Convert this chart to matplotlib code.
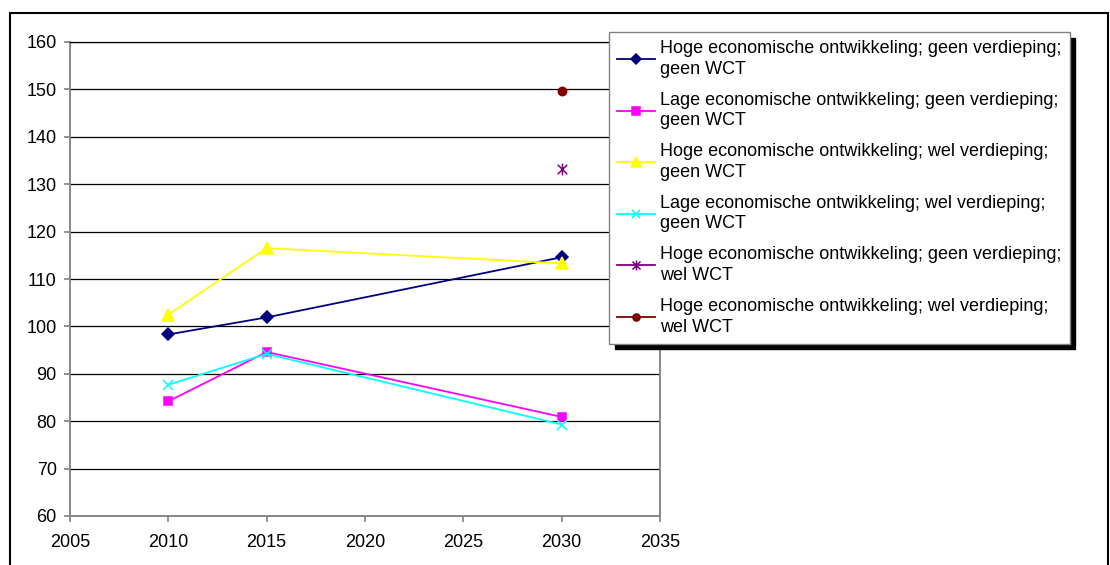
import matplotlib
matplotlib.use("Agg")
import matplotlib.pyplot as plt
from matplotlib.patches import Rectangle
from matplotlib.path import Path

plt.rcParams['font.family'] = ['Liberation Sans', 'DejaVu Sans']

years = [2010, 2015, 2030]

hoog_geen_geen = [98.3, 101.9, 114.6]
laag_geen_geen = [84.2, 94.6, 80.9]
hoog_wel_geen = [102.5, 116.5, 113.3]
laag_wel_geen = [87.7, 94.2, 79.3]
hoog_geen_wel = [None, None, 133.2]
hoog_wel_wel = [None, None, 149.6]

labels = [
    "Hoge economische ontwikkeling; geen verdieping;\ngeen WCT",
    "Lage economische ontwikkeling; geen verdieping;\ngeen WCT",
    "Hoge economische ontwikkeling; wel verdieping;\ngeen WCT",
    "Lage economische ontwikkeling; wel verdieping;\ngeen WCT",
    "Hoge economische ontwikkeling; geen verdieping;\nwel WCT",
    "Hoge economische ontwikkeling; wel verdieping;\nwel WCT",
]

x_ticks = [2005, 2010, 2015, 2020, 2025, 2030, 2035]
y_ticks = [60, 70, 80, 90, 100, 110, 120, 130, 140, 150, 160]

# star marker: an X with a vertical bar through it
star = Path([(-1, -1), (1, 1), (-1, 1), (1, -1), (0, -1.25), (0, 1.25)],
            [Path.MOVETO, Path.LINETO, Path.MOVETO, Path.LINETO,
             Path.MOVETO, Path.LINETO])

series = [hoog_geen_geen, laag_geen_geen, hoog_wel_geen, laag_wel_geen,
          hoog_geen_wel, hoog_wel_wel]
colors = ['#000080', '#FF00FF', '#FFFF00', '#00FFFF', '#800080', '#800000']
markers = ['D', 's', '^', 'x', star, 'o']
msizes = [6, 6, 8, 6.5, 8.5, 6]

fig = plt.figure(figsize=(11.10, 5.65), dpi=100)
ax = fig.add_axes([70 / 1110, 1 - 516 / 565, 590 / 1110, 474 / 565])

for vals, c, m, ms, lab in zip(series, colors, markers, msizes, labels):
    xs = [x for x, v in zip(years, vals) if v is not None]
    ys = [v for v in vals if v is not None]
    ax.plot(xs, ys, color=c, marker=m, markersize=ms, linewidth=1.3,
            markerfacecolor=c, markeredgecolor=c, markeredgewidth=1.1,
            label=lab, zorder=3)

ax.set_xlim(2005, 2035)
ax.set_ylim(60, 160)
ax.set_xticks(x_ticks)
ax.set_yticks(y_ticks)
ax.yaxis.grid(True, color='black', linewidth=0.9)
ax.set_axisbelow(True)
for s in ax.spines.values():
    s.set_color('#808080')
    s.set_linewidth(1.3)
ax.spines['top'].set_color('black')
ax.spines['top'].set_linewidth(0.9)
ax.tick_params(axis='both', direction='out', length=4, width=1.2,
               color='#808080', labelsize=13)
ax.tick_params(axis='x', pad=9)
ax.tick_params(axis='y', pad=5.5)

leg = fig.legend(loc='upper left', bbox_to_anchor=(609 / 1110, 1 - 32 / 565),
                 fontsize=13, frameon=True, fancybox=False,
                 handlelength=2.1, handletextpad=0.28, labelspacing=0.78,
                 borderpad=0.45, borderaxespad=0.0,
                 shadow={'color': 'black', 'alpha': 1.0, 'ox': 4, 'oy': -4})
for t in leg.get_texts():
    t.set_linespacing(1.27)
frame = leg.get_frame()
frame.set_edgecolor('#808080')
frame.set_linewidth(1.0)
frame.set_facecolor('white')
frame.set_alpha(1.0)
for h in leg.legend_handles:
    h.set_markersize(h.get_markersize() * 0.85)

# outer chart border
fig.patches.append(Rectangle((10 / 1110, -0.05), 1098 / 1110, 1 - 13 / 565 + 0.05,
                             transform=fig.transFigure, fill=False,
                             edgecolor='black', linewidth=1.5))

fig.savefig('out.png', dpi=100)
